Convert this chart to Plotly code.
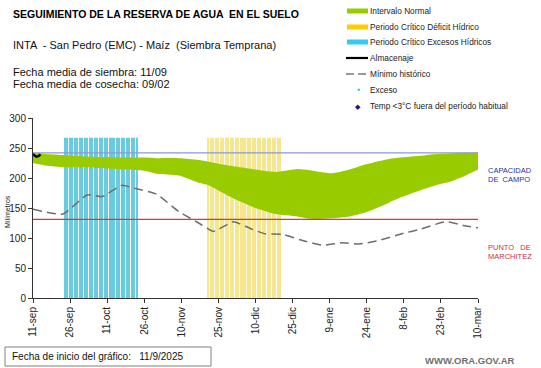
import plotly.graph_objects as go
import pandas as pd

# ---------------- data ----------------
band_dates = ["2025-09-11", "2025-09-16", "2025-09-24", "2025-10-02", "2025-10-11", "2025-10-18",
              "2025-10-26", "2025-10-31", "2025-11-09", "2025-11-17", "2025-11-21", "2025-11-26",
              "2025-12-02", "2025-12-10", "2025-12-18", "2025-12-27", "2026-01-01", "2026-01-10",
              "2026-01-17", "2026-01-23", "2026-01-31", "2026-02-04", "2026-02-15", "2026-02-21",
              "2026-02-27", "2026-03-05", "2026-03-10"]
band_lower = [225, 221, 218, 218, 216, 214, 212, 207, 204, 192, 188, 177, 164, 150, 140, 136, 132,
              133, 136, 142, 155, 163, 180, 188, 194, 204, 214]
band_upper = [242, 240, 238, 236, 235, 234, 234, 233, 233, 230, 227, 223, 219, 214, 210, 215, 213,
              208, 214, 222, 230, 233, 237, 240, 241, 242, 242]

min_dates = ["2025-09-11", "2025-09-23", "2025-10-03", "2025-10-09", "2025-10-17", "2025-10-22",
             "2025-10-31", "2025-11-09", "2025-11-17", "2025-11-23", "2025-12-01", "2025-12-09",
             "2025-12-14", "2025-12-21", "2025-12-28", "2026-01-06", "2026-01-14", "2026-01-21",
             "2026-01-28", "2026-02-08", "2026-02-14", "2026-02-25", "2026-03-05", "2026-03-10"]
min_hist = [148, 140, 172, 169, 188, 183, 173, 144, 125, 111, 127, 114, 107, 106, 97, 88, 92, 90,
            95, 108, 114, 127, 120, 117]

alm_dates = ["2025-09-11", "2025-09-12", "2025-09-13", "2025-09-14"]
almacenaje = [240, 236.5, 236, 239.5]

exceso_inicio, exceso_fin = "2025-09-24", "2025-10-23"
deficit_inicio, deficit_fin = "2025-11-21", "2025-12-20"
altura_periodo = 267

capacidad_campo = 242
punto_marchitez = 131

x_inicio, x_fin = "2025-09-11", "2026-03-10"
tick_dates = ["2025-09-11", "2025-09-26", "2025-10-11", "2025-10-26", "2025-11-10", "2025-11-25",
              "2025-12-10", "2025-12-25", "2026-01-09", "2026-01-24", "2026-02-08", "2026-02-23",
              "2026-03-10"]
tick_labels = ["11-sep", "26-sep", "11-oct", "26-oct", "10-nov", "25-nov", "10-dic", "25-dic",
               "9-ene", "24-ene", "8-feb", "23-feb", "10-mar"]

# ---------------- figure ----------------
W, H = 541, 368
L, R, T, B = 33, 63, 118, 70
PW, PH = W - L - R, H - T - B


def px(x, y):
    return (x - L) / PW, (H - B - y) / PH


GREEN = "#99CC00"
CYAN = "#5CC6DB"
YELLOW = "#F3E37C"
FONT = "Liberation Sans"

fig = go.Figure()
fig.add_trace(go.Scatter(x=band_dates, y=band_lower, mode="lines", line=dict(width=0, shape="spline", smoothing=0.7),
                         hoverinfo="skip", showlegend=False))
fig.add_trace(go.Scatter(x=band_dates, y=band_upper, mode="lines", fill="tonexty", fillcolor=GREEN,
                         line=dict(width=0, shape="spline", smoothing=0.7), showlegend=False))

exc_days = pd.date_range(exceso_inicio, exceso_fin, freq="D")
def_days = pd.date_range(deficit_inicio, deficit_fin, freq="D")
bw = 86400000 * 0.5
fig.add_trace(go.Bar(x=exc_days, y=[altura_periodo] * len(exc_days), width=bw, marker=dict(color=CYAN, line=dict(width=0)),
                     opacity=0.9, showlegend=False))
fig.add_trace(go.Bar(x=def_days, y=[altura_periodo] * len(def_days), width=bw, marker=dict(color=YELLOW, line=dict(width=0)),
                     opacity=0.85, showlegend=False))

fig.add_trace(go.Scatter(x=[x_inicio, x_fin], y=[capacidad_campo] * 2, mode="lines",
                         line=dict(color="#8A98D8", width=1.3), showlegend=False))
fig.add_trace(go.Scatter(x=[x_inicio, x_fin], y=[punto_marchitez] * 2, mode="lines",
                         line=dict(color="#D83A3A", width=1.1), showlegend=False))
fig.add_trace(go.Scatter(x=min_dates, y=min_hist, mode="lines",
                         line=dict(color="#6E6E6E", width=1.5, dash="9px,5px", shape="spline", smoothing=0.5),
                         showlegend=False))
fig.add_trace(go.Scatter(x=alm_dates, y=almacenaje, mode="lines",
                         line=dict(color="#000000", width=2.5, shape="spline"), showlegend=False))

shapes = []
annotations = []


def text(x, y, s, size, color="#111", bold=False, xanchor="left", family=FONT, angle=0):
    fx, fy = px(x, y)
    annotations.append(dict(xref="paper", yref="paper", x=fx, y=fy, text=f"<b>{s}</b>" if bold else s,
                            showarrow=False, xanchor=xanchor, yanchor="middle", textangle=angle,
                            font=dict(size=size, color=color, family=family)))


# titles
text(11, 14, "SEGUIMIENTO DE LA RESERVA DE AGUA  EN EL SUELO", 10.5, "#000", bold=True)
text(11, 45, "INTA  - San Pedro (EMC) - Maíz  (Siembra Temprana)", 11, "#111")
text(11, 72, "Fecha media de siembra: 11/09", 11, "#111")
text(11, 84, "Fecha media de cosecha: 09/02", 11, "#111")

# legend
legend_items = [
    ("Intervalo Normal", "bar", GREEN, 11),
    ("Periodo Crítico Déficit Hídrico", "bar", "#FFCC00", 27),
    ("Periodo Crítico Excesos Hídricos", "bar", "#33CCEE", 42),
    ("Almacenaje", "line", "#000", 58),
    ("Mínimo histórico", "dash", "#777", 74),
    ("Exceso", "dot", "#33CCEE", 90),
    ("Temp <3°C fuera del período habitual", "diamond", "#1A1A8C", 106),
]
for label, kind, color, y in legend_items:
    x0, y0 = px(347, y)
    x1, _ = px(368, y)
    if kind == "bar":
        h = 2.5 / PH
        shapes.append(dict(type="rect", xref="paper", yref="paper", x0=x0, x1=x1, y0=y0 - h, y1=y0 + h,
                           fillcolor=color, line=dict(width=0)))
    elif kind == "line":
        shapes.append(dict(type="line", xref="paper", yref="paper", x0=x0 - 1 / PW, x1=x1, y0=y0, y1=y0,
                           line=dict(color=color, width=2.2)))
    elif kind == "dash":
        shapes.append(dict(type="line", xref="paper", yref="paper", x0=x0 - 1 / PW, x1=x1, y0=y0, y1=y0,
                           line=dict(color=color, width=1.3, dash="8px,4px")))
    elif kind == "dot":
        text(358, y, "•", 9, color, xanchor="center")
    elif kind == "diamond":
        text(358, y, "◆", 7, color, xanchor="center")
    text(368, y, label, 8.3, "#222")

# side labels
text(486, 170, "CAPACIDAD", 7.5, "#2E2EA0")
text(486, 179, "DE  CAMPO", 7.5, "#2E2EA0")
text(486, 247, "PUNTO   DE", 7.5, "#C8304A")
text(486, 256, "MARCHITEZ", 7.5, "#C8304A")

# y-axis title
text(7, 212, "Milímetros", 7, "#222", xanchor="center", angle=-90)

# bottom box
bx0, by0 = px(5, 366)
bx1, by1 = px(211, 347)
shapes.append(dict(type="rect", xref="paper", yref="paper", x0=bx0, x1=bx1, y0=by0, y1=by1,
                   line=dict(color="#808080", width=1), fillcolor="rgba(0,0,0,0)"))
text(10, 356.5, "Fecha de inicio del gráfico:   11/9/2025", 10, "#111")
text(517, 360, "WWW.ORA.GOV.AR", 9.5, "#707070", bold=True, xanchor="right")

fig.update_layout(
    width=W, height=H, margin=dict(l=L, r=R, t=T, b=B, autoexpand=False),
    paper_bgcolor="white", plot_bgcolor="white", barmode="overlay",
    shapes=shapes, annotations=annotations, showlegend=False,
    font=dict(family=FONT, size=10, color="#222"),
    xaxis=dict(type="date", range=[x_inicio, x_fin], tickvals=tick_dates, ticktext=tick_labels,
               tickangle=-90, ticks="outside", ticklen=4, tickcolor="#333", showline=True,
               linecolor="#333", linewidth=1, showgrid=False, zeroline=False,
               tickfont=dict(size=10, color="#222", family=FONT)),
    yaxis=dict(range=[0, 300], tickvals=[0, 50, 100, 150, 200, 250, 300], ticks="outside", ticklen=4,
               tickcolor="#333", showline=True, linecolor="#333", linewidth=1, showgrid=False,
               zeroline=False, tickfont=dict(size=10, color="#222", family=FONT)),
)

fig.write_html("out.html", config={"displayModeBar": False},
               post_script="document.body.style.margin='0';document.body.style.overflow='hidden';")
